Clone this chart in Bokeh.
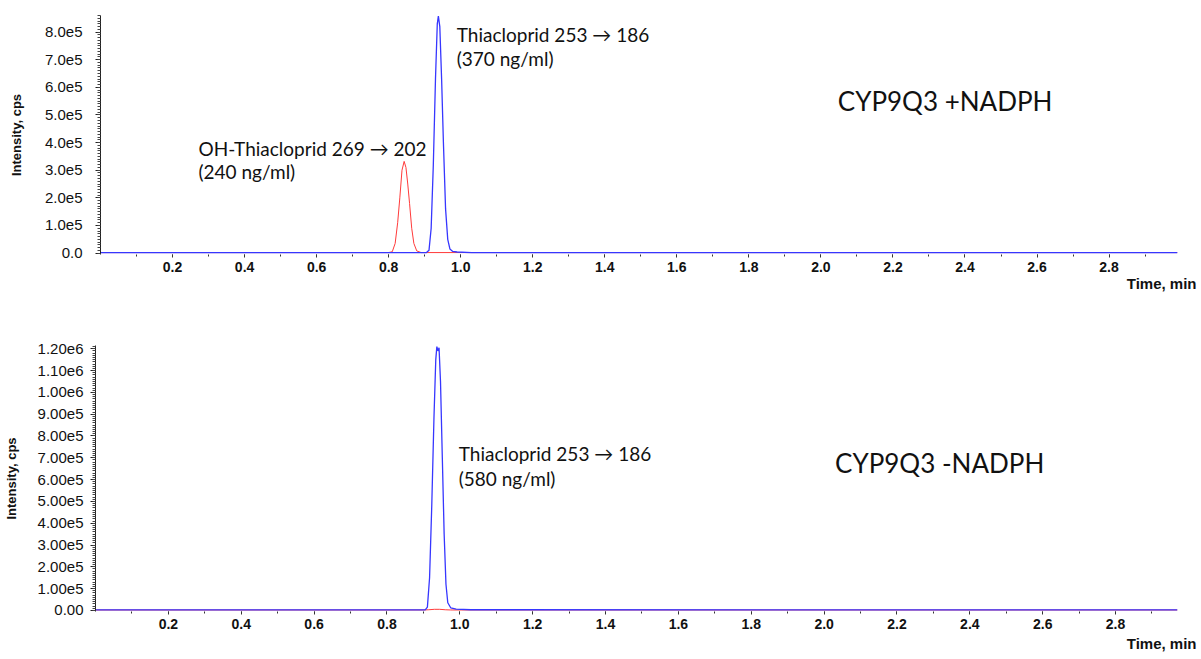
from bokeh.plotting import figure
from bokeh.models import FixedTicker, Label, Range1d, Title
from bokeh.layouts import column
from bokeh.embed import file_html
from bokeh.resources import INLINE

# ---------------- data ----------------
# Top panel: CYP9Q3 + NADPH
top_blue_t = [0.0, 0.905, 0.912, 0.918, 0.924, 0.930, 0.935, 0.938, 0.942, 0.947,
              0.952, 0.958, 0.964, 0.970, 0.978, 0.990, 1.030, 2.99]
top_blue_i = [2e3, 2e3, 1e4, 9e4, 3.2e5, 6.3e5, 8.3e5, 8.58e5, 8.2e5, 6.3e5,
              4.0e5, 1.6e5, 5e4, 1.5e4, 6e3, 4e3, 2e3, 2e3]
top_red_t = [0.0, 0.800, 0.810, 0.818, 0.825, 0.831, 0.837, 0.843, 0.848, 0.853,
             0.858, 0.864, 0.870, 0.878, 0.890, 1.050, 2.99]
top_red_i = [2e3, 2e3, 5e3, 3.5e4, 1.1e5, 2.0e5, 3.0e5, 3.32e5, 3.1e5, 2.5e5,
             1.8e5, 9e4, 3.5e4, 8e3, 2e3, 2e3, 2e3]

# Bottom panel: CYP9Q3 - NADPH
bot_blue_t = [0.0, 0.905, 0.911, 0.917, 0.923, 0.929, 0.934, 0.937, 0.940, 0.943,
              0.947, 0.952, 0.957, 0.962, 0.967, 0.975, 0.990, 1.030, 2.97]
bot_blue_i = [2e3, 2e3, 1.5e4, 1.5e5, 4.8e5, 8.8e5, 11.5e5, 12.1e5, 11.9e5, 12.05e5,
              10.5e5, 7.0e5, 3.5e5, 1.2e5, 3.5e4, 1.2e4, 6e3, 3e3, 2e3]
bot_red_t = [0.0, 0.900, 0.915, 0.930, 0.945, 0.960, 0.975, 2.97]
bot_red_i = [2e3, 2e3, 3e3, 5e3, 5e3, 3e3, 2e3, 2e3]

# ticks and tick labels
x_ticks = [0.2, 0.4, 0.6, 0.8, 1.0, 1.2, 1.4, 1.6, 1.8, 2.0, 2.2, 2.4, 2.6, 2.8]
x_labels = ["0.2", "0.4", "0.6", "0.8", "1.0", "1.2", "1.4", "1.6", "1.8", "2.0",
            "2.2", "2.4", "2.6", "2.8"]
x_minor = [0.1, 0.2, 0.3, 0.4, 0.5, 0.6, 0.7, 0.8, 0.9, 1.0, 1.1, 1.2, 1.3, 1.4, 1.5,
           1.6, 1.7, 1.8, 1.9, 2.0, 2.1, 2.2, 2.3, 2.4, 2.5, 2.6, 2.7, 2.8, 2.9]

top_y_ticks = [0, 100000, 200000, 300000, 400000, 500000, 600000, 700000, 800000]
top_y_labels = ["0.0", "1.0e5", "2.0e5", "3.0e5", "4.0e5", "5.0e5", "6.0e5", "7.0e5", "8.0e5"]
bot_y_ticks = [0, 100000, 200000, 300000, 400000, 500000, 600000, 700000, 800000,
               900000, 1000000, 1100000, 1200000]
bot_y_labels = ["0.00", "1.00e5", "2.00e5", "3.00e5", "4.00e5", "5.00e5", "6.00e5",
                "7.00e5", "8.00e5", "9.00e5", "1.00e6", "1.10e6", "1.20e6"]

top_texts = ["Thiacloprid 253 \u2192 186", "(370 ng/ml)",
             "OH-Thiacloprid 269 \u2192 202", "(240 ng/ml)", "CYP9Q3 +NADPH"]
bot_texts = ["Thiacloprid 253 \u2192 186", "(580 ng/ml)", "CYP9Q3 -NADPH"]
x_title = "Time, min"
y_title = "Intensity, cps"

BLUE = "#3636ff"
RED = "#ff3a3a"
TICK_FONT = "Liberation Sans"
ANN_FONT = "Lato"


def make_fig(width, height, xr, yr, mb_left, mb_right, mb_top, mb_bottom,
             y_ticks, y_labels, y_standoff, ylabel_standoff):
    p = figure(width=width, height=height, x_range=Range1d(*xr), y_range=Range1d(*yr),
               output_backend="svg", toolbar_location=None,
               min_border_left=mb_left, min_border_right=mb_right,
               min_border_top=mb_top, min_border_bottom=mb_bottom)
    p.outline_line_color = None
    p.grid.visible = False
    p.background_fill_color = "white"
    p.border_fill_color = "white"

    xa = p.xaxis[0]
    xa.ticker = FixedTicker(ticks=x_ticks, minor_ticks=x_minor)
    xa.major_label_overrides = dict(zip(x_ticks, x_labels))
    xa.axis_line_color = None
    xa.major_tick_line_color = "#333333"
    xa.minor_tick_line_color = "#333333"
    xa.major_tick_out = 3
    xa.major_tick_in = 0
    xa.minor_tick_out = 2
    xa.minor_tick_in = 0
    xa.major_label_standoff = 4
    xa.major_label_text_font = TICK_FONT
    xa.major_label_text_font_size = "14px"
    xa.major_label_text_font_style = "bold"
    xa.major_label_text_color = "#111111"

    ya = p.yaxis[0]
    minor = [i * (y_ticks[1] // 10) for i in range(len(y_ticks) * 10)]
    ya.ticker = FixedTicker(ticks=y_ticks, minor_ticks=minor)
    ya.major_label_overrides = dict(zip(y_ticks, y_labels))
    ya.axis_line_color = "#222222"
    ya.major_tick_line_color = "#222222"
    ya.minor_tick_line_color = "#444444"
    ya.major_tick_out = 5
    ya.major_tick_in = 0
    ya.minor_tick_out = 3
    ya.minor_tick_in = 0
    ya.major_label_standoff = y_standoff
    ya.major_label_text_font = TICK_FONT
    ya.major_label_text_font_size = "15px"
    ya.major_label_text_color = "#111111"
    ya.axis_label = y_title
    ya.axis_label_text_font = TICK_FONT
    ya.axis_label_text_font_size = "13px"
    ya.axis_label_text_font_style = "bold"
    ya.axis_label_text_color = "#111111"
    ya.axis_label_standoff = ylabel_standoff
    return p


def add_text(p, x, y, text, size, **kw):
    p.add_layout(Label(x=x, y=y, text=text, text_font=ANN_FONT, text_font_size=size,
                       text_color="#111111", text_baseline="middle", **kw))


def add_xtitle(p, offset, standoff):
    p.add_layout(Title(text=x_title, align="right", offset=offset, standoff=standoff,
                       vertical_align="top", text_font=TICK_FONT, text_font_size="15px",
                       text_font_style="bold", text_color="#111111"), "below")


# ---------------- top panel ----------------
p1 = make_fig(1195, 330, (0, 2.99), (-5e3, 8.6e5), 95, 23, 15, 76,
              top_y_ticks, top_y_labels, 13, 18)
p1.margin = (0, 0, 0, 5)
p1.line(top_red_t, top_red_i, line_color=RED, line_width=1)
p1.line(top_blue_t, top_blue_i, line_color=BLUE, line_width=1.3)
add_text(p1, 0.989, 7.90e5, top_texts[0], "19px")
add_text(p1, 0.989, 7.03e5, top_texts[1], "19px")
add_text(p1, 0.272, 3.77e5, top_texts[2], "19px")
add_text(p1, 0.272, 2.97e5, top_texts[3], "19px")
add_text(p1, 2.047, 5.51e5, top_texts[4], "26px")
add_xtitle(p1, -19, 0)

# ---------------- bottom panel ----------------
p2 = make_fig(1200, 328, (0, 2.97), (-5e3, 12.15e5), 95, 23, 15, 47,
              bot_y_ticks, bot_y_labels, 7, 16)
p2.line(bot_red_t, bot_red_i, line_color=RED, line_width=1)
p2.line(bot_blue_t, bot_blue_i, line_color=BLUE, line_width=1.3)
add_text(p2, 0.997, 7.20e5, bot_texts[0], "19px")
add_text(p2, 0.997, 6.06e5, bot_texts[1], "19px")
add_text(p2, 2.03, 6.74e5, bot_texts[2], "26px")
add_xtitle(p2, -19, 6)

layout = column(p1, p2, spacing=0)
open("out.html", "w").write(file_html(layout, INLINE))
